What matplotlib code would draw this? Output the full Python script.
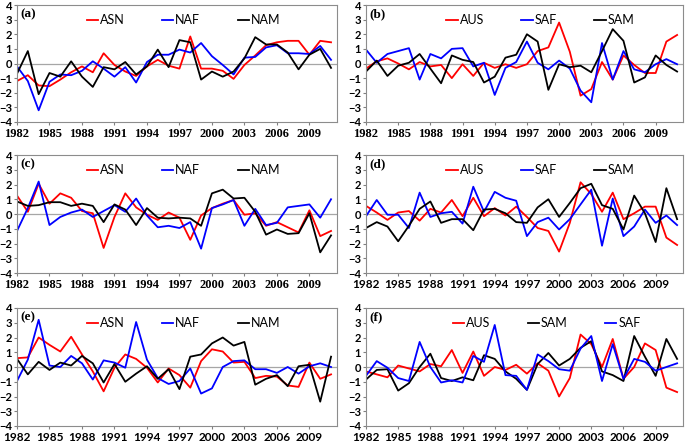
import numpy as np
import matplotlib
matplotlib.use('Agg')
import matplotlib.pyplot as plt

years = np.arange(1982, 2012)

# (a)
a_asn = [-1.2, -0.8, -1.5, -1.55, -1.1, -0.6, -0.2, -0.6, 0.7, -0.1, -0.55, -0.85, -0.2, 0.25, -0.15,
         -0.35, 1.85, -0.35, -0.35, -0.5, -1.05, -0.1, 0.55, 1.25, 1.45, 1.55, 1.55, 0.6, 1.55, 1.45]
a_naf = [-0.2, -1.2, -3.2, -1.25, -0.75, -0.8, -0.5, 0.15, -0.35, -0.9, -0.25, -1.3, 0.1, 0.6, 0.6,
         0.95, 0.75, 1.4, 0.5, -0.1, -0.75, 0.4, 0.45, 1.1, 1.25, 0.7, 0.7, 0.65, 1.2, 0.25]
a_nam = [-0.7, 0.85, -2.1, -0.65, -0.9, 0.15, -0.9, -1.6, -0.25, -0.4, 0.1, -0.75, -0.2, 0.95, -0.25,
         1.6, 1.45, -1.1, -0.55, -0.9, -0.55, 0.35, 1.8, 1.3, 1.3, 0.75, -0.4, 0.6, 1.0, -0.3]
# (b)
b_aus = [-0.35, 0.15, 0.35, 0.0, -0.4, 0.1, -0.2, -0.1, -1.0, -0.05, -0.85, 0.05, -0.3, -0.05, -0.3,
         -0.05, 0.85, 1.1, 2.8, 0.8, -2.2, -1.75, 0.1, -1.1, 0.55, -0.1, -0.65, -0.65, 1.5, 1.95]
b_saf = [0.95, 0.05, 0.65, 0.85, 1.05, -1.1, 0.65, 0.35, 1.0, 1.05, -0.2, 0.05, -2.15, -0.3, 0.1,
         1.5, 0.05, -0.4, 0.2, -0.35, -1.85, -2.65, 1.4, -1.1, 0.85, -0.4, -0.6, -0.05, 0.3, -0.05]
b_sam = [-0.55, 0.2, -0.85, -0.15, 0.05, 0.65, -0.35, -1.35, 0.55, 0.25, 0.1, -1.3, -0.9, 0.4, 0.6,
         2.0, 1.5, -1.8, -0.05, -0.25, -0.15, -0.6, 0.85, 2.35, 1.55, -1.3, -0.95, 0.55, -0.1, -0.55]
# (c)
c_asn = [1.25, 0.15, 2.05, 0.7, 1.4, 1.1, 0.2, 0.05, -2.3, -0.2, 1.4, 0.45, -0.05, -0.4, 0.1,
         -0.25, -1.75, -0.1, 0.4, 0.7, 0.95, -0.05, 0.05, -0.8, -0.55, -0.9, -1.25, 0.25, -1.5, -1.15]
c_naf = [-1.15, 0.4, 2.2, -0.75, -0.2, 0.1, 0.3, -0.2, 0.2, 0.6, 0.15, 1.05, -0.1, -0.9, -0.8,
         -0.95, -0.55, -2.35, 0.4, 0.65, 0.95, -0.8, 0.35, -0.75, -0.6, 0.45, 0.55, 0.65, -0.25, 1.0]
c_nam = [0.85, 0.55, 0.6, 0.8, 0.8, 0.55, 0.7, 0.55, -0.55, 0.65, 0.3, -0.75, 0.4, -0.25, -0.3,
         -0.25, -0.3, -0.8, 1.4, 1.65, 1.05, 1.1, 0.15, -1.4, -1.05, -1.35, -1.3, 0.05, -2.6, -1.45]
# (d)
d_aus = [0.55, 0.1, -0.4, 0.1, 0.2, -0.45, 0.35, 0.1, 0.95, -0.15, 1.1, -0.15, 0.4, -0.1, 0.5,
         -0.2, -0.95, -1.15, -2.55, -0.6, 2.15, 1.35, 0.15, 1.45, -0.35, 0.05, 0.5, 0.5, -1.6, -2.1]
d_saf = [-0.15, 0.95, -0.05, -0.05, -0.95, 1.45, -0.2, 0.05, 0.15, -0.65, 1.85, 0.15, 1.5, 1.1, 0.9,
         -1.5, -0.55, -0.25, -1.05, -0.35, 0.65, 1.65, -2.15, 1.05, -1.5, -0.85, 0.3, -0.6, -0.1, -0.75]
d_sam = [-0.95, -0.55, -0.85, -1.85, -0.8, 0.35, 0.85, -0.6, -0.35, -0.35, -1.1, 0.3, 0.35, 0.05, -0.55,
         -0.6, 0.45, 1.0, -0.2, 0.75, 1.75, 2.05, 0.6, 0.35, -1.05, 1.25, 0.05, -1.9, 1.75, -0.35]
# (e)
e_asn = [0.6, 0.65, 2.0, 1.5, 1.05, 2.05, 0.85, -0.3, -1.65, -0.05, 0.85, 0.55, -0.05, -1.05, -0.1,
         -0.55, -1.4, 0.4, 1.2, 1.05, 0.3, 0.35, -0.75, -0.6, -0.65, -1.25, -1.35, 0.3, -0.8, -0.5]
e_naf = [-0.95, 0.5, 3.2, 0.1, 0.0, 0.75, 0.25, -0.85, 0.45, 0.3, -0.05, 3.05, 0.5, -0.75, -1.15,
         -0.95, -0.1, -1.8, -1.45, 0.0, 0.4, 0.45, -0.15, -0.15, -0.4, 0.0, -0.45, 0.05, 0.25, 0.0]
e_nam = [0.55, -0.5, 0.35, -0.2, 0.3, 0.1, 0.75, 0.25, -1.05, 0.2, -1.0, -0.45, 0.05, -0.8, -0.15,
         -1.5, 0.7, 0.85, 1.6, 2.0, 1.45, 1.7, -1.2, -0.8, -0.55, -1.3, 0.05, 0.15, -2.35, 0.7]
# (f)
f_aus = [-0.3, -0.5, -0.7, 0.1, -0.1, -0.3, 0.2, 0.05, 1.15, -0.4, 1.05, -0.6, 0.0, -0.2, 0.15,
         -0.45, 0.25, -0.25, -2.0, -0.75, 2.2, 1.55, 0.0, 1.9, -0.8, 0.0, 1.6, 1.15, -1.4, -1.7]
f_sam = [-0.85, -0.2, -0.15, -1.6, -1.1, 0.0, 0.9, -0.75, -0.95, -0.7, -0.9, 0.8, 0.55, -0.3, -0.8,
         -1.55, 0.2, 0.95, 0.1, 0.55, 1.3, 1.75, -0.3, -0.55, -0.95, 2.1, 0.7, -0.6, 1.9, 0.55]
f_saf = [-0.6, 0.4, -0.05, -0.75, -0.95, 1.7, 0.0, -1.05, -0.9, -1.05, 0.75, 0.35, 2.85, -0.55, -0.6,
         -1.55, 0.85, 0.4, -0.15, -0.25, 1.25, 2.1, -0.95, 1.55, -0.8, 0.55, 0.35, -0.25, 0.0, 0.25]

panels = [
    ('(a)', [('ASN', a_asn, 'red'), ('NAF', a_naf, 'blue'), ('NAM', a_nam, 'black')], 'serif', 0.52),
    ('(b)', [('AUS', b_aus, 'red'), ('SAF', b_saf, 'blue'), ('SAM', b_sam, 'black')], 'serif', 0.55),
    ('(c)', [('ASN', c_asn, 'red'), ('NAF', c_naf, 'blue'), ('NAM', c_nam, 'black')], 'serif', 0.52),
    ('(d)', [('AUS', d_aus, 'red'), ('SAF', d_saf, 'blue'), ('SAM', d_sam, 'black')], 'sans', 0.55),
    ('(e)', [('ASN', e_asn, 'red'), ('NAF', e_naf, 'blue'), ('NAM', e_nam, 'black')], 'sans', 0.52),
    ('(f)', [('AUS', f_aus, 'red'), ('SAM', f_sam, 'black'), ('SAF', f_saf, 'blue')], 'sans', 0.57),
]

W, H = 685, 442
fig = plt.figure(figsize=(W / 100, H / 100), dpi=100)

# axes boxes in pixels
lefts = [(17, 337), (366, 683)]
rows = [(5, 122), (155, 273), (308, 426)]

for i, (tag, series, xfont, legx) in enumerate(panels):
    r, c = divmod(i, 2)
    x0, x1 = lefts[c]
    y0, y1 = rows[r]
    ax = fig.add_axes([x0 / W, 1 - y1 / H, (x1 - x0) / W, (y1 - y0) / H])
    ax.axhline(0, color='#a6a6a6', lw=0.9, zorder=1)
    for name, vals, col in series:
        ax.plot(years, vals, color=col, lw=1.3, label=name, zorder=2)
    ax.set_xlim(1982, 2011.55)
    ax.set_ylim(-4, 4)
    ax.set_xticks(np.arange(1982, 2010, 3))
    ax.set_yticks(np.arange(-4, 5, 1))
    ax.tick_params(direction='out', length=2.5, width=0.8, color='#808080')
    ax.tick_params(axis='x', pad=2)
    ax.tick_params(axis='y', pad=1)
    xfam = 'Liberation Serif' if xfont == 'serif' else 'Lato'
    for lab in ax.get_xticklabels():
        lab.set_fontfamily(xfam)
        lab.set_fontweight('bold')
        lab.set_fontsize(9 if xfont == 'serif' else 8.5)
    for lab in ax.get_yticklabels():
        lab.set_fontfamily('Lato')
        lab.set_fontweight('bold')
        lab.set_fontsize(8)
    for sp in ax.spines.values():
        sp.set_color('#8c8c8c')
        sp.set_linewidth(0.8)
    ax.text(0.012, 0.97, tag, transform=ax.transAxes, ha='left', va='top',
            fontfamily='Liberation Serif', fontweight='bold', fontsize=9.5)
    ax.legend(loc='upper center', bbox_to_anchor=(legx, 1.02), ncol=3, frameon=False,
              handlelength=0.9, handletextpad=0.15, columnspacing=3.0,
              prop={'family': 'Lato', 'size': 9})

fig.savefig('out.png', dpi=100)
